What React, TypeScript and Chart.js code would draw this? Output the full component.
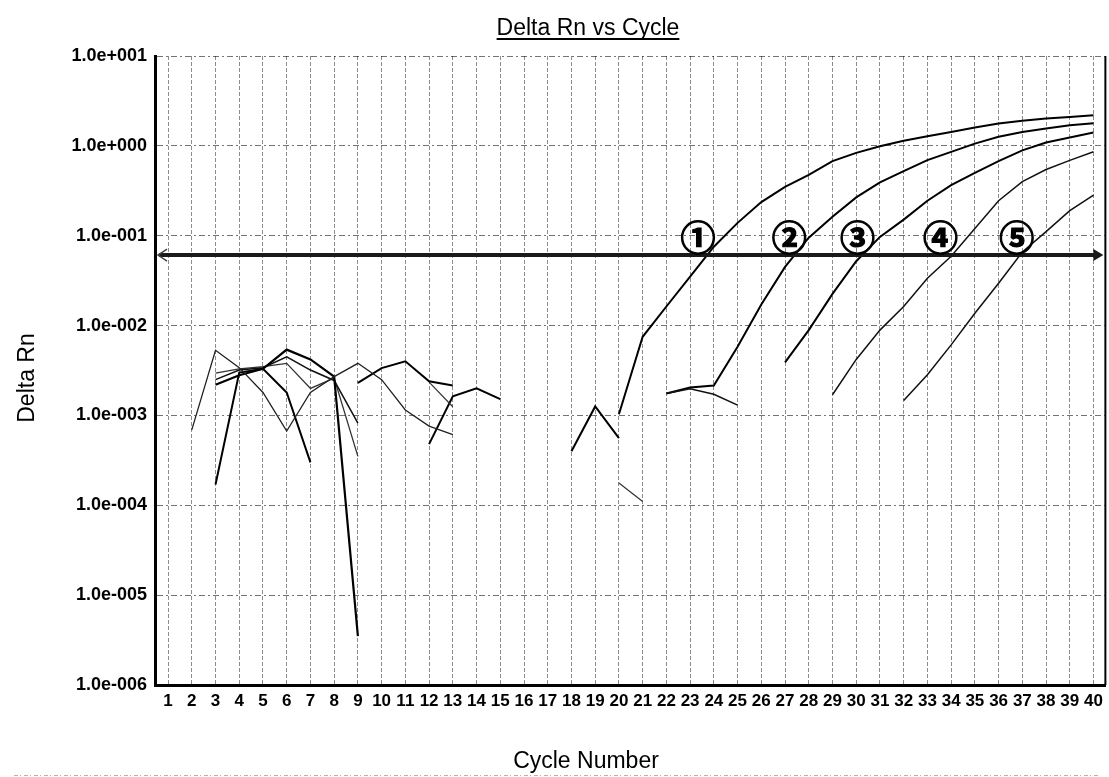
import React, { useEffect, useRef } from 'react';
import { Chart, registerables } from 'chart.js';

Chart.register(...registerables);

// ---- axis data ----
const cycleTicks = [1, 2, 3, 4, 5, 6, 7, 8, 9, 10, 11, 12, 13, 14, 15, 16, 17, 18, 19, 20, 21, 22, 23, 24, 25, 26, 27, 28, 29, 30, 31, 32, 33, 34, 35, 36, 37, 38, 39, 40];
const cycleLabels = ['1', '2', '3', '4', '5', '6', '7', '8', '9', '10', '11', '12', '13', '14', '15', '16', '17', '18', '19', '20', '21', '22', '23', '24', '25', '26', '27', '28', '29', '30', '31', '32', '33', '34', '35', '36', '37', '38', '39', '40'];
const yTickValues = [1e-6, 1e-5, 1e-4, 1e-3, 1e-2, 1e-1, 1, 10];
const yTickLabels = ['1.0e-006', '1.0e-005', '1.0e-004', '1.0e-003', '1.0e-002', '1.0e-001', '1.0e+000', '1.0e+001'];

const chartTitle = 'Delta Rn vs Cycle';
const xTitle = 'Cycle Number';
const yTitle = 'Delta Rn';

// ---- threshold & annotations ----
const threshold = 0.061;
const markerLabels = ['①', '②', '③', '④', '⑤'];
const markerCycles = [23.33, 27.18, 30.05, 33.55, 36.77];
const markerLevel = 0.0975;

// ---- amplification curves ----
const amp1Cycles = [20, 21, 22, 23, 24, 25, 26, 27, 28, 29, 30, 31, 32, 33, 34, 35, 36, 37, 38, 39, 40];
const amp1Values = [1.03e-3, 7.5e-3, 0.0163, 0.035, 0.0755, 0.139, 0.237, 0.35, 0.476, 0.676, 0.836, 0.99, 1.14, 1.28, 1.43, 1.6, 1.77, 1.9, 2.01, 2.1, 2.19];

const amp2Cycles = [22, 23, 24, 25, 26, 27, 28, 29, 30, 31, 32, 33, 34, 35, 36, 37, 38, 39, 40];
const amp2Values = [1.75e-3, 2.05e-3, 2.15e-3, 5.8e-3, 0.0172, 0.045, 0.095, 0.163, 0.267, 0.392, 0.524, 0.693, 0.857, 1.06, 1.26, 1.43, 1.56, 1.7, 1.79];

const amp3Cycles = [27, 28, 29, 30, 31, 32, 33, 34, 35, 36, 37, 38, 39, 40];
const amp3Values = [3.9e-3, 8.9e-3, 0.0225, 0.052, 0.097, 0.151, 0.245, 0.366, 0.5, 0.676, 0.89, 1.09, 1.24, 1.41];

const amp4Cycles = [29, 30, 31, 32, 33, 34, 35, 36, 37, 38, 39, 40];
const amp4Values = [1.7e-3, 4.2e-3, 8.9e-3, 0.0163, 0.0336, 0.059, 0.12, 0.245, 0.4, 0.545, 0.69, 0.86];

const amp5Cycles = [32, 33, 34, 35, 36, 37, 38, 39, 40];
const amp5Values = [1.47e-3, 2.83e-3, 6.1e-3, 0.0137, 0.0296, 0.066, 0.111, 0.19, 0.283];

// ---- baseline noise fragments ----
const noiseACycles = [2, 3, 4, 5, 6, 7, 8, 9, 10, 11, 12, 13];
const noiseAValues = [6.9e-4, 5.3e-3, 3.4e-3, 1.8e-3, 6.7e-4, 1.8e-3, 2.7e-3, 3.8e-3, 2.5e-3, 1.15e-3, 7.6e-4, 6.1e-4];

const noiseBCycles = [3, 4, 5, 6, 7];
const noiseBValues = [1.7e-4, 3.0e-3, 3.3e-3, 1.8e-3, 3.0e-4];

const noiseCCycles = [3, 4, 5, 6, 7, 8, 9];
const noiseCValues = [2.2e-3, 2.8e-3, 3.3e-3, 5.4e-3, 4.2e-3, 2.7e-3, 3.5e-6];

const noiseDCycles = [3, 4, 5, 6, 7, 8, 9];
const noiseDValues = [2.5e-3, 3.2e-3, 3.4e-3, 4.5e-3, 3.2e-3, 2.45e-3, 8.2e-4];

const noiseECycles = [3, 4, 5, 6, 7, 8, 9];
const noiseEValues = [2.95e-3, 3.3e-3, 3.5e-3, 3.8e-3, 2.0e-3, 2.6e-3, 3.5e-4];

const noiseGCycles = [9, 10, 11, 12, 13];
const noiseGValues = [2.3e-3, 3.36e-3, 4.0e-3, 2.4e-3, 2.15e-3];

const noiseHCycles = [12, 13];
const noiseHValues = [2.35e-3, 1.25e-3];

const noiseICycles = [12, 13, 14, 15];
const noiseIValues = [4.8e-4, 1.63e-3, 2.0e-3, 1.52e-3];

const noiseJCycles = [18, 19, 20];
const noiseJValues = [4.0e-4, 1.26e-3, 5.6e-4];

const noiseKCycles = [20, 21];
const noiseKValues = [1.77e-4, 1.1e-4];

const noiseLCycles = [22, 23, 24, 25];
const noiseLValues = [1.75e-3, 1.98e-3, 1.72e-3, 1.3e-3];

const FONT = '"Liberation Sans", Arial, Helvetica, sans-serif';

function pts(cycles: number[], values: number[]) {
  return cycles.map((c, i) => ({ x: c, y: values[i] }));
}

function ds(label: string, cycles: number[], values: number[], color: string, width: number) {
  return {
    label,
    data: pts(cycles, values),
    borderColor: color,
    backgroundColor: color,
    borderWidth: width,
    pointRadius: 0,
    pointHoverRadius: 0,
    fill: false,
    tension: 0,
  };
}

const overlayPlugin = {
  id: 'overlay',
  afterDatasetsDraw(chart: any) {
    const { ctx, chartArea: a, scales } = chart;
    const xs = scales.x;
    const ys = scales.y;
    ctx.save();
    // threshold line
    const ty = ys.getPixelForValue(threshold);
    ctx.strokeStyle = '#1a1a1a';
    ctx.lineWidth = 4;
    ctx.setLineDash([]);
    ctx.beginPath();
    ctx.moveTo(a.left + 4, ty);
    ctx.lineTo(a.right - 6, ty);
    ctx.stroke();
    // arrowheads
    ctx.fillStyle = '#1a1a1a';
    ctx.beginPath();
    ctx.moveTo(a.right - 12, ty - 6);
    ctx.lineTo(a.right - 2, ty);
    ctx.lineTo(a.right - 12, ty + 6);
    ctx.closePath();
    ctx.fill();
    ctx.lineWidth = 1.5;
    ctx.strokeStyle = '#444';
    ctx.beginPath();
    ctx.moveTo(a.left + 12, ty - 6);
    ctx.lineTo(a.left + 3, ty);
    ctx.lineTo(a.left + 12, ty + 6);
    ctx.stroke();
    // circled markers
    ctx.fillStyle = '#000';
    ctx.strokeStyle = '#000';
    ctx.lineWidth = 1.2;
    ctx.font = 'bold 35px "Noto Sans CJK JP", "DejaVu Sans", sans-serif';
    ctx.textAlign = 'center';
    ctx.textBaseline = 'middle';
    const my = ys.getPixelForValue(markerLevel);
    markerLabels.forEach((t, i) => {
      const px = xs.getPixelForValue(markerCycles[i]);
      ctx.fillText(t, px, my + 1);
      ctx.strokeText(t, px, my + 1);
    });
    // right border
    ctx.strokeStyle = '#000';
    ctx.lineWidth = 2;
    ctx.beginPath();
    ctx.moveTo(a.right, a.top);
    ctx.lineTo(a.right, a.bottom);
    ctx.stroke();
    ctx.restore();
  },
  afterDraw(chart: any) {
    const { ctx } = chart;
    ctx.save();
    ctx.fillStyle = '#000';
    ctx.strokeStyle = '#000';
    // title
    ctx.font = `23px ${FONT}`;
    ctx.textAlign = 'center';
    ctx.textBaseline = 'alphabetic';
    const tx = 588;
    ctx.fillText(chartTitle, tx, 35);
    const w = ctx.measureText(chartTitle).width;
    ctx.lineWidth = 2;
    ctx.beginPath();
    ctx.moveTo(tx - w / 2, 39);
    ctx.lineTo(tx + w / 2, 39);
    ctx.stroke();
    // x title
    ctx.fillText(xTitle, 586, 768);
    // y title
    ctx.translate(34, 378);
    ctx.rotate(-Math.PI / 2);
    ctx.fillText(yTitle, 0, 0);
    ctx.restore();
    // faint scan line at bottom
    ctx.save();
    ctx.strokeStyle = 'rgba(0,0,0,0.3)';
    ctx.lineWidth = 1;
    ctx.setLineDash([4, 2, 1, 3]);
    ctx.beginPath();
    ctx.moveTo(14, 775.5);
    ctx.lineTo(1100, 775.5);
    ctx.stroke();
    ctx.restore();
  },
};

export default function App() {
  const ref = useRef<HTMLCanvasElement>(null);

  useEffect(() => {
    const canvas = ref.current;
    if (!canvas) return;
    const datasets = [
      ds('noiseA', noiseACycles, noiseAValues, '#222', 1.3),
      ds('noiseB', noiseBCycles, noiseBValues, '#000', 2),
      ds('noiseC', noiseCCycles, noiseCValues, '#000', 2.2),
      ds('noiseD', noiseDCycles, noiseDValues, '#111', 1.5),
      ds('noiseE', noiseECycles, noiseEValues, '#333', 1.3),
      ds('noiseG', noiseGCycles, noiseGValues, '#000', 2),
      ds('noiseH', noiseHCycles, noiseHValues, '#333', 1.2),
      ds('noiseI', noiseICycles, noiseIValues, '#000', 2),
      ds('noiseJ', noiseJCycles, noiseJValues, '#000', 2),
      ds('noiseK', noiseKCycles, noiseKValues, '#333', 1.2),
      ds('noiseL', noiseLCycles, noiseLValues, '#111', 1.5),
      ds('amp1', amp1Cycles, amp1Values, '#000', 2),
      ds('amp2', amp2Cycles, amp2Values, '#000', 2),
      ds('amp3', amp3Cycles, amp3Values, '#000', 2),
      ds('amp4', amp4Cycles, amp4Values, '#111', 1.5),
      ds('amp5', amp5Cycles, amp5Values, '#111', 1.5),
    ];
    const chart = new Chart(canvas, {
      type: 'line',
      data: { datasets },
      options: {
        animation: false,
        responsive: false,
        devicePixelRatio: 1,
        layout: { padding: { top: 56, right: 2, bottom: 0, left: 0 } },
        plugins: {
          legend: { display: false },
          title: { display: false },
          tooltip: { enabled: false },
        },
        scales: {
          x: {
            type: 'linear',
            min: 0.45,
            max: 40.5,
            afterBuildTicks: (s: any) => {
              s.ticks = cycleTicks.map((v) => ({ value: v }));
            },
            afterFit: (s: any) => {
              s.height = 92;
            },
            ticks: {
              autoSkip: false,
              maxRotation: 0,
              minRotation: 0,
              padding: 6,
              color: '#000',
              font: { family: FONT, size: 17, weight: 'bold' },
              callback: (_v: any, i: number) => cycleLabels[i],
            },
            grid: { color: 'rgba(0,0,0,0.45)', lineWidth: 1, drawTicks: false },
            border: { display: true, color: '#000', width: 3, dash: [4, 2] },
          },
          y: {
            type: 'logarithmic',
            min: 1e-6,
            max: 10,
            afterBuildTicks: (s: any) => {
              s.ticks = yTickValues.map((v) => ({ value: v }));
            },
            afterFit: (s: any) => {
              s.width = 155;
            },
            ticks: {
              autoSkip: false,
              padding: 8,
              color: '#000',
              font: { family: FONT, size: 18, weight: 'bold' },
              callback: (_v: any, i: number) => yTickLabels[i],
            },
            grid: { color: 'rgba(0,0,0,0.55)', lineWidth: 1, drawTicks: false },
            border: { display: true, color: '#000', width: 3, dash: [6, 3, 2, 3] },
          },
        },
      },
      plugins: [overlayPlugin],
    } as any);
    return () => chart.destroy();
  }, []);

  return (
    <div style={{ position: 'fixed', left: 0, top: 0, width: 1109, height: 777, background: '#fff' }}>
      <canvas ref={ref} width={1109} height={777} style={{ display: 'block', width: 1109, height: 777 }} />
    </div>
  );
}
